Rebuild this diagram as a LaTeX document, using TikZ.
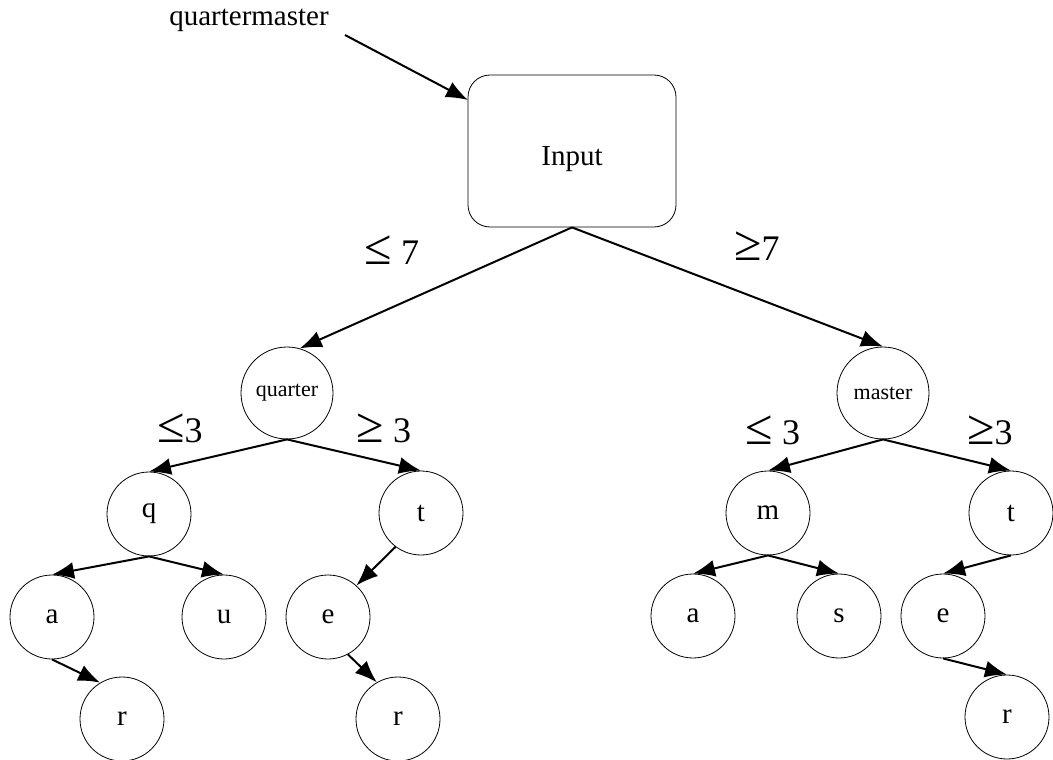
\documentclass[tikz,border=0pt]{standalone}
\usepackage{fontspec}
\setmainfont{Liberation Serif}
\usetikzlibrary{arrows.meta}
\newcommand{\lesym}{{\fontsize{50}{50}\selectfont ≤}}
\newcommand{\gesym}{{\fontsize{50}{50}\selectfont ≥}}

\begin{document}
\begin{tikzpicture}[x=1pt, y=-1pt,
    letter/.style={draw, circle, line width=0.8pt, minimum size=84pt, inner sep=0pt,
      font=\fontsize{29}{30}\selectfont},
    part/.style={letter, minimum size=92pt, font=\fontsize{22}{24}\selectfont},
    bound/.style={font=\fontsize{36}{38}\selectfont},
    arr/.style={line width=2pt, -{Latex[length=22pt,width=17pt]}}]
    \useasboundingbox (0,0) rectangle (1053,760);

    % word and input box
    \node[font=\fontsize{29}{30}\selectfont] (qm) at (249,20) {quartermaster};
    \node[draw, rounded corners=22pt, line width=0.8pt, minimum width=208pt, minimum height=152pt,
      text height=28pt, text depth=0pt, font=\fontsize{29}{30}\selectfont] (input) at (572,151) {Input};
    \coordinate (qmout) at (345,35);
    \coordinate (inleft) at (468,100);
    \draw[arr] (qmout) -- (inleft);

    % first split
    \node[part] (quarter) at (287,393) {quarter};
    \node[part] (master) at (883,393) {master};
    \draw[arr] (input.south) -- (quarter.74);
    \draw[arr] (input.south) -- (master.north);
    \node[bound] (le7) at (392,250) {\lesym\ 7};
    \node[bound] (ge7) at (757,246) {\gesym 7};

    % quarter
    \node[letter] (q) at (149,514) {q};
    \node[letter] (t) at (421,513) {t};
    \node[letter] (a) at (52,617) {a};
    \node[letter] (u) at (224,617) {u};
    \node[letter] (e) at (328,617) {e};
    \node[letter] (r) at (122,719) {r};
    \node[letter] (r') at (398,719) {r};
    \draw[arr] (quarter.south) -- (q.north);
    \draw[arr] (quarter.south) -- (t.north);
    \draw[arr] (q.south) -- (a.north);
    \draw[arr] (q.south) -- (u.north);
    \draw[arr] (t.233) -- (e.48);
    \draw[arr] (a.south) -- (r.121);
    \draw[arr] (e.298) -- (r'.120);
    \node[bound] (le3) at (180,428) {\lesym 3};
    \node[bound] (ge3) at (384,428) {\gesym\ 3};

    % master
    \node[letter] (m) at (768,513) {m};
    \node[letter] (tt) at (1011,513) {t};
    \node[letter] (aa) at (693,616) {a};
    \node[letter] (s) at (839,616) {s};
    \node[letter] (ee) at (943,616) {e};
    \node[letter] (rr) at (1007,717) {r};
    \draw[arr] (master.south) -- (m.north);
    \draw[arr] (master.south) -- (tt.north);
    \draw[arr] (m.south) -- (aa.north);
    \draw[arr] (m.south) -- (s.north);
    \draw[arr] (tt.south) -- (ee.north);
    \draw[arr] (ee.south) -- (rr.north);
    \node[bound] (le3') at (773,430) {\lesym\ 3};
    \node[bound] (ge3') at (990,430) {\gesym 3};
\end{tikzpicture}
\end{document}
